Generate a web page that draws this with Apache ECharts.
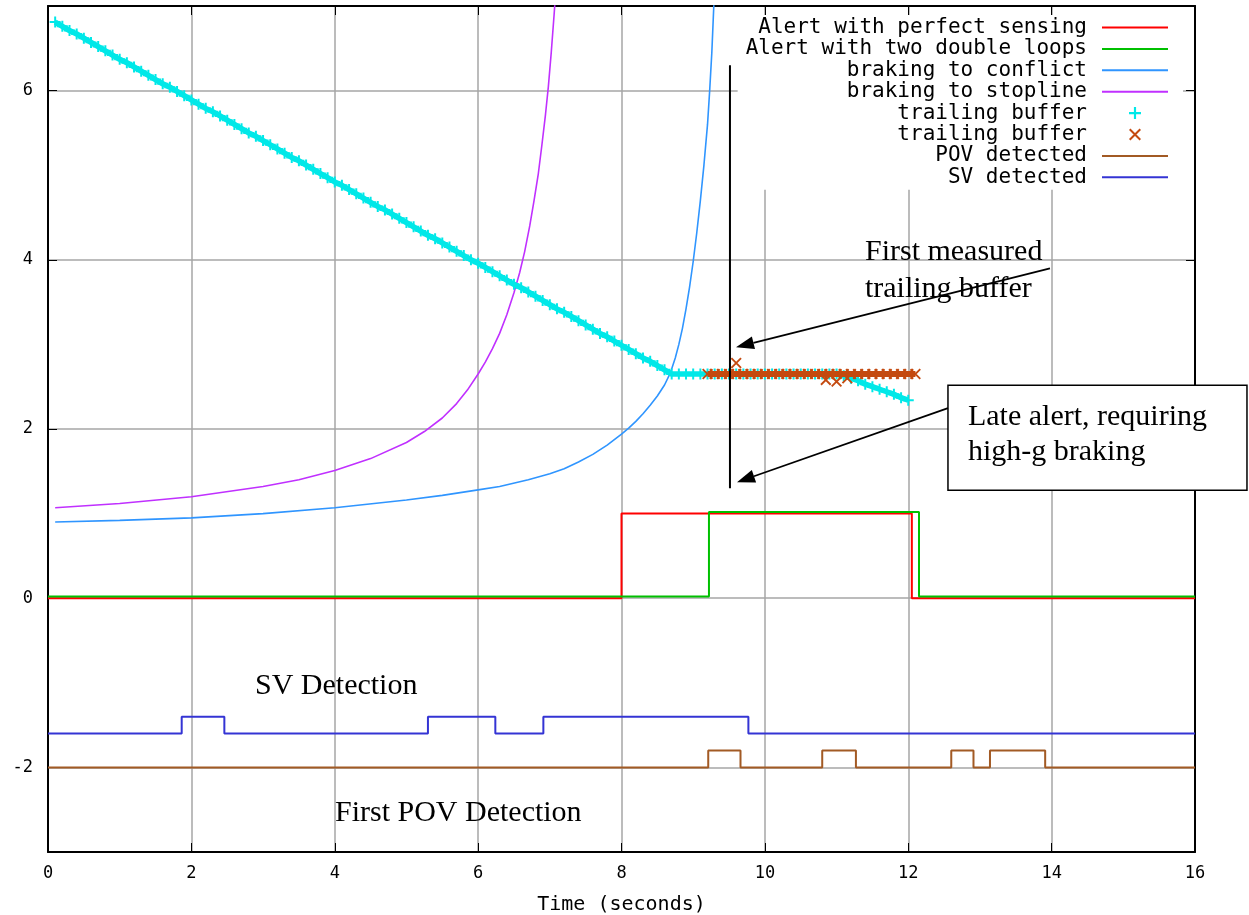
<!DOCTYPE html>
<html><head><meta charset="utf-8">
<script src="https://cdn.jsdelivr.net/npm/echarts@6/dist/echarts.min.js"></script>
<style>html,body{margin:0;padding:0;background:#fff}#c{width:1249px;height:915px}</style>
</head><body><div id="c"></div>
<script>
// ---- tick labels ----
const xTicks = [0, 2, 4, 6, 8, 10, 12, 14, 16];
const yTicks = [-2, 0, 2, 4, 6];

// ---- series data (time in seconds, value) ----
const perfectT = [0, 8.0, 12.05, 16];
const perfectV = [0, 1, 0, 0];
const loopsT = [0, 9.22, 12.15, 16];
const loopsV = [0.02, 1.02, 0.02, 0.02];

const conflictT = [0.1, 1.0, 2.0, 3.0, 4.0, 5.0, 5.5, 6.0, 6.3, 6.7, 7.0, 7.2, 7.4, 7.6, 7.8, 8.0, 8.1, 8.2, 8.3, 8.4, 8.5, 8.6, 8.68,
  8.75, 8.8, 8.85, 8.9, 8.95, 9.0, 9.05, 9.1, 9.15, 9.2, 9.23, 9.26, 9.28, 9.29];
const conflictV = [0.90, 0.92, 0.95, 1.00, 1.07, 1.16, 1.215, 1.28, 1.32, 1.40, 1.47, 1.53, 1.61, 1.70, 1.81, 1.94, 2.01, 2.09, 2.18, 2.28, 2.39, 2.52, 2.66,
  2.84, 3.00, 3.19, 3.42, 3.68, 3.98, 4.32, 4.70, 5.12, 5.60, 6.0, 6.45, 6.85, 7.05];

const stoplineT = [0.1, 1.0, 2.0, 3.0, 3.5, 4.0, 4.5, 5.0, 5.25, 5.5, 5.7, 5.85, 6.0, 6.1, 6.2, 6.3, 6.4, 6.5, 6.58, 6.65,
  6.72, 6.78, 6.84, 6.89, 6.94, 6.98, 7.02, 7.06, 7.07];
const stoplineV = [1.07, 1.12, 1.20, 1.32, 1.40, 1.51, 1.65, 1.84, 1.97, 2.13, 2.30, 2.46, 2.65, 2.79, 2.95, 3.13, 3.35, 3.61, 3.85, 4.10,
  4.40, 4.70, 5.02, 5.36, 5.72, 6.05, 6.45, 6.90, 7.02];

const bufferT = [0.1,0.2,0.3,0.4,0.5,0.6,0.7,0.8,0.9,1.0,1.1,1.2,1.3,1.4,1.5,1.6,1.7,1.8,1.9,2.0,
  2.1,2.2,2.3,2.4,2.5,2.6,2.7,2.8,2.9,3.0,3.1,3.2,3.3,3.4,3.5,3.6,3.7,3.8,3.9,4.0,
  4.1,4.2,4.3,4.4,4.5,4.6,4.7,4.8,4.9,5.0,5.1,5.2,5.3,5.4,5.5,5.6,5.7,5.8,5.9,6.0,
  6.1,6.2,6.3,6.4,6.5,6.6,6.7,6.8,6.9,7.0,7.1,7.2,7.3,7.4,7.5,7.6,7.7,7.8,7.9,8.0,
  8.1,8.2,8.3,8.4,8.5,8.6,8.7,8.8,8.9,9.0,9.1,9.2,9.3,9.4,9.5,9.6,9.7,9.8,9.9,10.0,
  10.1,10.2,10.3,10.4,10.5,10.6,10.7,10.8,10.9,11.0,11.1,11.2,11.3,11.4,11.5,11.6,11.7,11.8,11.9,12.0];
const bufferV = [6.81,6.76,6.71,6.67,6.62,6.57,6.52,6.47,6.42,6.37,6.33,6.28,6.23,6.18,6.13,6.08,6.04,5.99,5.94,5.89,
  5.84,5.79,5.75,5.70,5.65,5.60,5.55,5.50,5.46,5.41,5.36,5.31,5.26,5.21,5.17,5.12,5.07,5.02,4.97,4.92,
  4.88,4.83,4.78,4.73,4.68,4.63,4.59,4.54,4.49,4.44,4.39,4.34,4.29,4.25,4.20,4.15,4.10,4.05,4.00,3.96,
  3.91,3.86,3.81,3.76,3.71,3.67,3.62,3.57,3.52,3.47,3.42,3.38,3.33,3.28,3.23,3.18,3.13,3.09,3.04,2.99,
  2.94,2.89,2.84,2.80,2.75,2.70,2.65,2.65,2.65,2.65,2.65,2.65,2.65,2.65,2.65,2.65,2.65,2.65,2.65,2.65,
  2.65,2.65,2.65,2.65,2.65,2.65,2.65,2.65,2.65,2.65,2.63,2.60,2.57,2.53,2.50,2.47,2.44,2.41,2.37,2.34];

const measuredT = [9.2,9.3,9.4,9.5,9.6,9.7,9.8,9.9,10.0,10.1,10.2,10.3,10.4,10.5,10.6,10.7,10.8,10.9,11.0,11.1,
  11.2,11.3,11.4,11.5,11.6,11.7,11.8,11.9,12.0,12.1];
const measuredV = [2.65,2.65,2.65,2.65,2.65,2.65,2.65,2.65,2.65,2.65,2.65,2.65,2.65,2.65,2.65,2.65,2.65,2.65,2.65,2.65,
  2.65,2.65,2.65,2.65,2.65,2.65,2.65,2.65,2.65,2.65];
const measuredOutT = [9.6, 10.85, 11.0, 11.15];
const measuredOutV = [2.78, 2.58, 2.56, 2.60];

const povT = [0, 9.21, 9.66, 10.80, 11.27, 12.60, 12.91, 13.14, 13.91, 16];
const povV = [-2, -1.8, -2, -1.8, -2, -1.8, -2, -1.8, -2, -2];
const svT = [0, 1.865, 2.46, 5.30, 6.24, 6.91, 9.77, 16];
const svV = [-1.6, -1.4, -1.6, -1.4, -1.6, -1.4, -1.6, -1.6];

const names = ['Alert with perfect sensing', 'Alert with two double loops', 'braking to conflict',
  'braking to stopline', 'trailing buffer', 'trailing buffer ', 'POV detected', 'SV detected'];

// ---- annotations (data coordinates) ----
const annotations = {
  vline: [[9.513, 6.30], [9.513, 1.30]],
  arrows: [[[13.977, 3.90], [9.597, 2.967]], [[12.554, 2.246], [9.611, 1.371]]],
  box: [[12.554, 2.518], [16.725, 1.277]],
  texts: [
    ['First measured', 11.396, 4.09],
    ['trailing buffer', 11.396, 3.652],
    ['Late alert, requiring', 12.833, 2.139],
    ['high-g braking', 12.833, 1.726],
    ['SV Detection', 2.887, -1.04],
    ['First POV Detection', 4.003, -2.541]
  ]
};

const zip = (t, v) => t.map((x, i) => [x, v[i]]);
const MONO = 'DejaVu Sans Mono';
const LINE_ICON = 'path://M0,0H66V2H0Z';
const PLUS = 'path://M4.1,0H5.9V10H4.1Z M0,4.1H10V5.9H0Z';
const CROSS = 'path://M0,1.2L1.2,0L10,8.8L8.8,10Z M8.8,0L10,1.2L1.2,10L0,8.8Z';

const C = {
  red: '#ff0000', green: '#00c000', conflict: '#2f95ff', stop: '#c030ff',
  cyan: '#00e8e8', orange: '#c44a10', pov: '#a25a24', sv: '#3434d4'
};

function lineSeries(name, data, color, width, extra) {
  return Object.assign({
    name, type: 'line', data, symbol: 'none', showSymbol: false, color,
    lineStyle: { color, width }, animation: false, z: 3
  }, extra || {});
}

const chart = echarts.init(document.getElementById('c'));
const axisLine = { show: true, onZero: false, lineStyle: { color: '#000', width: 2 } };
const axisTick = { show: true, inside: true, length: 9, lineStyle: { color: '#000', width: 1 } };
const gridLine = { show: true, lineStyle: { color: '#a6a6a6', width: 1.5 } };
const labelStyle = { fontFamily: MONO, fontSize: 17, color: '#000' };

chart.setOption({
  animation: false,
  backgroundColor: '#fff',
  grid: { left: 48, right: 54, top: 6, bottom: 63, containLabel: false, outerBoundsMode: 'none' },
  legend: {
    orient: 'vertical', right: 66, top: 15, align: 'right',
    padding: [2, 15, 2, 8], itemWidth: 66, itemHeight: 12, itemGap: 0.4,
    backgroundColor: '#fff', selectedMode: false,
    textStyle: { fontFamily: MONO, fontSize: 21, color: '#000', padding: [0, 10, 0, 0] },
    data: [
      { name: names[0], icon: LINE_ICON }, { name: names[1], icon: LINE_ICON },
      { name: names[2], icon: LINE_ICON }, { name: names[3], icon: LINE_ICON },
      { name: names[4], icon: PLUS }, { name: names[5], icon: CROSS },
      { name: names[6], icon: LINE_ICON }, { name: names[7], icon: LINE_ICON }
    ],
    formatter: n => n.trim()
  },
  xAxis: [{
    type: 'value', min: 0, max: 16, interval: 2, position: 'bottom',
    axisLine, axisTick, splitLine: gridLine,
    axisLabel: Object.assign({ margin: 13, formatter: v => xTicks.includes(v) ? String(v) : '' }, labelStyle),
    name: 'Time (seconds)', nameLocation: 'middle', nameGap: 43,
    nameTextStyle: { fontFamily: MONO, fontSize: 20, color: '#000' }
  }, {
    type: 'value', min: 0, max: 16, interval: 2, position: 'top',
    axisLine, axisTick, splitLine: { show: false }, axisLabel: { show: false }
  }],
  yAxis: [{
    type: 'value', min: -3, max: 7, minInterval: 2, maxInterval: 2, position: 'left',
    axisLine, axisTick, splitLine: gridLine,
    axisLabel: Object.assign({ margin: 15, formatter: v => yTicks.includes(v) ? String(v) : '' }, labelStyle)
  }, {
    type: 'value', min: -3, max: 7, minInterval: 2, maxInterval: 2, position: 'right',
    axisLine, axisTick, splitLine: { show: false }, axisLabel: { show: false }
  }],
  series: [
    lineSeries(names[0], zip(perfectT, perfectV), C.red, 2, { step: 'end' }),
    lineSeries(names[1], zip(loopsT, loopsV), C.green, 2, { step: 'end' }),
    lineSeries(names[2], zip(conflictT, conflictV), C.conflict, 1.6),
    lineSeries(names[3], zip(stoplineT, stoplineV), C.stop, 1.6),
    lineSeries('_bufferBand', zip(bufferT, bufferV), C.cyan, 5.5, { z: 4 }),
    { name: names[4], type: 'scatter', data: zip(bufferT, bufferV), symbol: PLUS, symbolSize: 11,
      itemStyle: { color: C.cyan, opacity: 1 }, z: 4, animation: false },
    lineSeries('_measuredBand', zip(measuredT, measuredV), C.orange, 6, { z: 5 }),
    { name: names[5], type: 'scatter', data: zip(measuredT, measuredV).concat(zip(measuredOutT, measuredOutV)),
      symbol: CROSS, symbolSize: 11, itemStyle: { color: C.orange, opacity: 1 }, z: 5, animation: false },
    lineSeries(names[6], zip(povT, povV), C.pov, 2, { step: 'end' }),
    lineSeries(names[7], zip(svT, svV), C.sv, 2, { step: 'end' })
  ]
});

// ---- annotations drawn in pixel space computed from data coordinates ----
const P = (p) => chart.convertToPixel({ xAxisIndex: 0, yAxisIndex: 0 }, p);
const g = [];
const Z = 100;
(function () {
  const a = P(annotations.vline[0]), b = P(annotations.vline[1]);
  g.push({ type: 'line', z: Z, silent: true, shape: { x1: a[0], y1: a[1], x2: b[0], y2: b[1] }, style: { stroke: '#000', lineWidth: 2 } });
  const b0 = P(annotations.box[0]), b1 = P(annotations.box[1]);
  g.push({ type: 'rect', z: Z, silent: true, shape: { x: b0[0], y: b0[1], width: b1[0] - b0[0], height: b1[1] - b0[1] }, style: { fill: '#fff', stroke: '#000', lineWidth: 1.5 } });
  annotations.arrows.forEach(([tail, tip]) => {
    const p0 = P(tail), p1 = P(tip);
    const dx = p1[0] - p0[0], dy = p1[1] - p0[1], L = Math.hypot(dx, dy);
    const ux = dx / L, uy = dy / L, hl = 18, hw = 6.5;
    const bx = p1[0] - ux * hl, by = p1[1] - uy * hl;
    g.push({ type: 'line', z: Z, silent: true, shape: { x1: p0[0], y1: p0[1], x2: bx, y2: by }, style: { stroke: '#000', lineWidth: 1.8 } });
    g.push({ type: 'polygon', z: Z, silent: true, shape: { points: [[p1[0], p1[1]], [bx - uy * hw, by + ux * hw], [bx + uy * hw, by - ux * hw]] }, style: { fill: '#000' } });
  });
  annotations.texts.forEach(([txt, t, v]) => {
    const p = P([t, v]);
    g.push({ type: 'text', z: Z + 1, silent: true, x: p[0], y: p[1], style: { text: txt, fontFamily: 'Liberation Serif', fontSize: 30, fill: '#000', align: 'left', verticalAlign: 'middle' } });
  });
})();
chart.setOption({ graphic: { elements: g } });
</script></body></html>
